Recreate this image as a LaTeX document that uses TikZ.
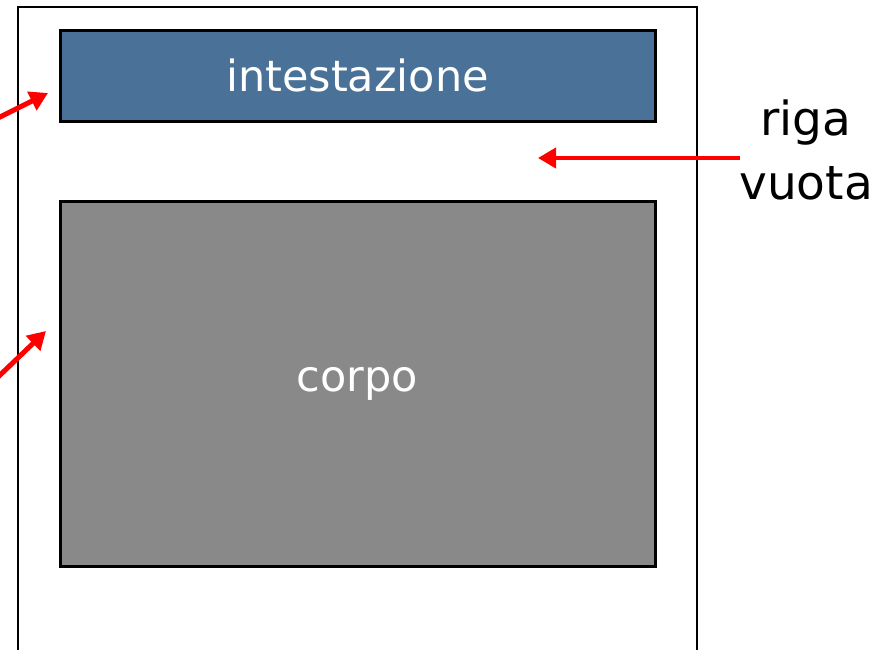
\documentclass[tikz,border=0pt]{standalone}
\usepackage{fontspec}
\setmainfont{DejaVu Sans}
\usetikzlibrary{arrows.meta}

\definecolor{headblue}{HTML}{4A7198}
\definecolor{bodygray}{HTML}{898989}

\begin{document}
\begin{tikzpicture}[x=1pt, y=-1pt,
	box/.style={draw=black, line width=3pt, minimum width=595pt, inner sep=0pt,
		text=white, font=\fontsize{43}{50}\selectfont},
	pointer/.style={draw=red, line width=5pt, -{Triangle[length=18pt, width=20pt]}}]
	\clip (0,0) rectangle (886,649);
	% page
	\draw [line width=2.6pt] (18,700) -- (18,7) -- (697,7) -- (697,700);
	% header and body
	\node [box, fill=headblue, minimum height=91pt] (head) at (357.5,75.5) {intestazione};
	\node [box, fill=bodygray, minimum height=365pt] (body) at (357.5,383.5) {corpo};
	% label
	\node [align=center, inner sep=0pt, font=\fontsize{47}{64}\selectfont] (blank) at (806,150) {riga\\vuota};
	% arrows
	\coordinate (a1) at (-2,118);
	\coordinate (t1) at (48,93);
	\coordinate (a2) at (-2,377);
	\coordinate (t2) at (46,331);
	\coordinate (a3) at (740,158);
	\coordinate (t3) at (538,158);
	\draw [pointer] (a1) -- (t1);
	\draw [pointer] (a2) -- (t2);
	\draw [pointer, line width=4pt] (a3) -- (t3);
\end{tikzpicture}
\end{document}
